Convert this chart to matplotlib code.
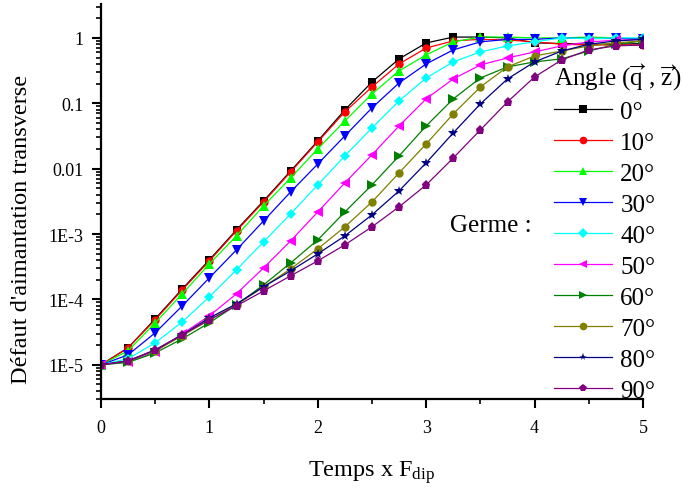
import matplotlib
matplotlib.use("Agg")
import matplotlib.pyplot as plt
from matplotlib.ticker import LogLocator, NullFormatter, MultipleLocator

plt.rcParams['font.family'] = ['Liberation Serif', 'DejaVu Serif']
plt.rcParams['mathtext.fontset'] = 'custom'
plt.rcParams['mathtext.rm'] = 'Liberation Serif'
plt.rcParams['mathtext.it'] = 'Liberation Serif:italic'

# ---- data ----
temps = [0.0, 0.25, 0.5, 0.75, 1.0, 1.25, 1.5, 1.75, 2.0, 2.25, 2.5,
         2.75, 3.0, 3.25, 3.5, 3.75, 4.0, 4.25, 4.5, 4.75, 5.0]

angle_labels = ["0°", "10°", "20°", "30°", "40°", "50°", "60°", "70°", "80°", "90°"]

d_0 = [1.0e-5, 1.82e-5, 5.05e-5, 1.45e-4, 4.04e-4, 1.16e-3, 3.22e-3, 9.25e-3, 0.0266, 0.0793, 0.212,
       0.478, 0.837, 1.03, 1.03, 1.0, 0.84, 0.82, 0.80, 0.80, 0.82]
d_10 = [1.0e-5, 1.82e-5, 4.88e-5, 1.40e-4, 3.89e-4, 1.12e-3, 3.10e-3, 8.93e-3, 0.0257, 0.074, 0.178,
        0.40, 0.70, 0.90, 0.95, 0.93, 0.87, 0.80, 0.78, 0.78, 0.78]
d_20 = [1.0e-5, 1.64e-5, 4.39e-5, 1.22e-4, 3.50e-4, 9.38e-4, 2.70e-3, 7.23e-3, 0.0201, 0.0538, 0.139,
        0.313, 0.55, 0.87, 1.03, 1.03, 1.0, 1.0, 1.03, 1.0, 0.97]
d_30 = [1.0e-5, 1.42e-5, 3.09e-5, 7.98e-5, 2.14e-4, 5.73e-4, 1.59e-3, 4.42e-3, 0.0118, 0.0318, 0.0851,
        0.205, 0.40, 0.656, 0.87, 0.95, 0.95, 1.0, 0.98, 0.98, 0.97]
d_40 = [1.0e-5, 1.24e-5, 2.17e-5, 4.54e-5, 1.10e-4, 2.84e-4, 7.60e-4, 2.04e-3, 5.65e-3, 0.0157, 0.042,
        0.109, 0.244, 0.43, 0.61, 0.755, 0.87, 1.0, 0.97, 1.0, 1.0]
d_50 = [1.0e-5, 1.11e-5, 1.58e-5, 2.98e-5, 5.61e-5, 1.22e-4, 3.04e-4, 7.87e-4, 2.18e-3, 6.07e-3, 0.0163,
        0.0451, 0.117, 0.236, 0.386, 0.494, 0.61, 0.755, 0.87, 0.92, 0.95]
d_60 = [1.0e-5, 1.09e-5, 1.52e-5, 2.50e-5, 4.39e-5, 8.27e-5, 1.67e-4, 3.63e-4, 8.15e-4, 2.18e-3, 5.65e-3,
        0.0157, 0.0451, 0.117, 0.244, 0.36, 0.43, 0.478, 0.63, 0.80, 0.90]
d_70 = [1.0e-5, 1.15e-5, 1.64e-5, 2.78e-5, 4.88e-5, 8.27e-5, 1.56e-4, 2.94e-4, 5.94e-4, 1.29e-3, 3.10e-3,
        8.63e-3, 0.0239, 0.0689, 0.178, 0.36, 0.53, 0.63, 0.755, 0.84, 0.90]
d_80 = [1.0e-5, 1.15e-5, 1.69e-5, 2.88e-5, 5.23e-5, 8.57e-5, 1.56e-4, 2.74e-4, 4.98e-4, 9.38e-4, 1.97e-3,
        4.58e-3, 0.0123, 0.0353, 0.098, 0.236, 0.43, 0.63, 0.80, 0.90, 0.95]
d_90 = [1.0e-5, 1.15e-5, 1.69e-5, 2.88e-5, 4.88e-5, 7.98e-5, 1.35e-4, 2.30e-4, 3.89e-4, 6.84e-4, 1.29e-3,
        2.61e-3, 5.65e-3, 0.0146, 0.0392, 0.105, 0.253, 0.461, 0.656, 0.755, 0.78]

series = [d_0, d_10, d_20, d_30, d_40, d_50, d_60, d_70, d_80, d_90]

y_tick_values = [1e-5, 1e-4, 1e-3, 0.01, 0.1, 1]
y_tick_labels = ["1E-5", "1E-4", "1E-3", "0.01", "0.1", "1"]
x_tick_values = [0, 1, 2, 3, 4, 5]

# ---- style ----
colors = ["#000000", "#FF0000", "#00FF00", "#0000FF", "#00FFFF",
          "#FF00FF", "#008000", "#808000", "#000080", "#800080"]
markers = ["s", "o", "^", "v", "D", "<", ">", "o", "*", "p"]
msizes = [5.5, 6, 6.5, 6.5, 5, 6.5, 6.5, 6, 7.5, 6.5]

fig = plt.figure(figsize=(6.83, 4.89), dpi=100)
ax = fig.add_axes([101/683, 1 - 400/489, 542/683, 395/489])

handles = []
for vals, c, m, ms, lab in zip(series, colors, markers, msizes, angle_labels):
    h, = ax.plot(temps, vals, color=c, marker=m, markersize=ms, lw=0.9,
                 markeredgewidth=0, label=lab)
    handles.append(h)

ax.set_yscale("log")
ax.set_xlim(0, 5)
ax.set_ylim(3.0e-6, 3.3)

ax.set_yticks(y_tick_values)
ax.set_yticklabels(y_tick_labels)
ax.yaxis.set_minor_locator(LogLocator(base=10, subs=range(2, 10), numticks=20))
ax.yaxis.set_minor_formatter(NullFormatter())
ax.set_xticks(x_tick_values)
ax.xaxis.set_minor_locator(MultipleLocator(0.5))

for s in ["top", "right"]:
    ax.spines[s].set_visible(False)
for s in ["left", "bottom"]:
    ax.spines[s].set_linewidth(1.6)

ax.tick_params(which="major", direction="out", length=6.5, width=1.5, labelsize=13)
ax.tick_params(which="minor", direction="out", length=3.6, width=1.2)
ax.tick_params(axis="x", pad=8)
ax.tick_params(axis="y", pad=6)

ax.set_xlabel(r"Temps x F$_{\mathrm{dip}}$", fontsize=17.5, labelpad=16)
fig.text(22/683, 1 - 229/489, "Défaut d'aimantation transverse", fontsize=17.5,
         rotation=90, ha="center", va="center")

leg = fig.legend(handles=handles, loc="upper left",
                 bbox_to_anchor=(554/683, 1 - 62/489),
                 title=r"Angle ($\overrightarrow{\mathrm{q}}$ , $\overrightarrow{\mathrm{z}}$)",
                 frameon=False, fontsize=18, title_fontsize=18,
                 handlelength=2.3, handletextpad=0.35, labelspacing=0.34,
                 borderaxespad=0, borderpad=0, numpoints=1, alignment="left")
for lh in leg.legend_handles:
    lh.set_markersize(5.5)

fig.text(450/683, 1 - 226/489, "Germe :", fontsize=18, va="center", ha="left")

fig.savefig("out.png", dpi=100)
